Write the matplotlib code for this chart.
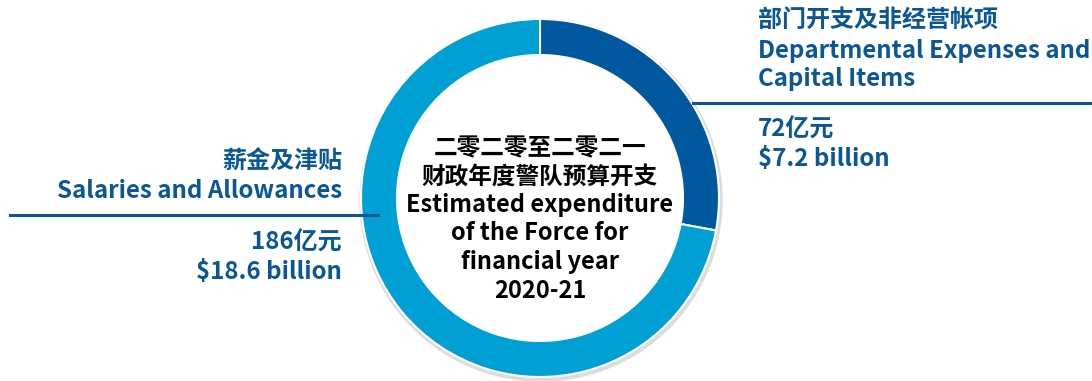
import matplotlib
matplotlib.use('Agg')
import matplotlib.pyplot as plt

plt.rcParams['font.family'] = ['Noto Sans CJK SC', 'DejaVu Sans']

# budget items (HK$ hundred million)
values = [72, 186]
colors = ['#02589E', '#009FD4']
label_zh = ['部门开支及非经营帐项', '薪金及津贴']
label_en = [['Departmental Expenses and', 'Capital Items'], ['Salaries and Allowances']]
amount_zh = ['72亿元', '186亿元']
amount_en = ['$7.2 billion', '$18.6 billion']
centre_lines = ['二零二零至二零二一', '财政年度警队预算开支', 'Estimated expenditure',
                'of the Force for', 'financial year', '2020-21']

W, H = 1092, 381
txt = '#0B5796'

fig = plt.figure(figsize=(W / 100, H / 100), dpi=100)
ax = fig.add_axes([0, 0, 1, 1])

cx, cy = 540, H - 198
# faint shadow behind the ring
ax.add_patch(plt.Circle((cx + 1, cy - 2), 181, color='#dcdcdc', zorder=0))
ax.pie(values, colors=colors, startangle=90, counterclock=False,
       center=(cx, cy), radius=179,
       wedgeprops=dict(width=36, edgecolor='white', linewidth=1.5))
ax.add_patch(plt.Circle((cx, cy), 142.5, color='white', zorder=2))
ax.set_xlim(0, W)
ax.set_ylim(0, H)
ax.set_aspect('equal')
ax.axis('off')


def put(lines, x, ys, ha, color, fs=17.3):
    for s, y in zip(lines, ys):
        ax.text(x, H - y, s, ha=ha, va='center', fontsize=fs,
                fontweight='bold', color=color, zorder=3)


# centre caption
put(centre_lines, cx, [148, 177, 205, 233, 262, 291], 'center', 'black', fs=17)

# right label (departmental)
ax.plot([693, W], [H - 103, H - 103], color=txt, lw=2.2)
put([label_zh[0]] + label_en[0], 758, [21, 51, 79], 'left', txt)
put([amount_zh[0], amount_en[0]], 758, [130, 159], 'left', txt)

# left label (salaries)
ax.plot([10, 378], [H - 215, H - 215], color=txt, lw=2.2)
put([label_zh[1]] + label_en[1], 342, [162, 191], 'right', txt)
put([amount_zh[1], amount_en[1]], 342, [243, 272], 'right', txt)

fig.savefig('out.png', dpi=100)
